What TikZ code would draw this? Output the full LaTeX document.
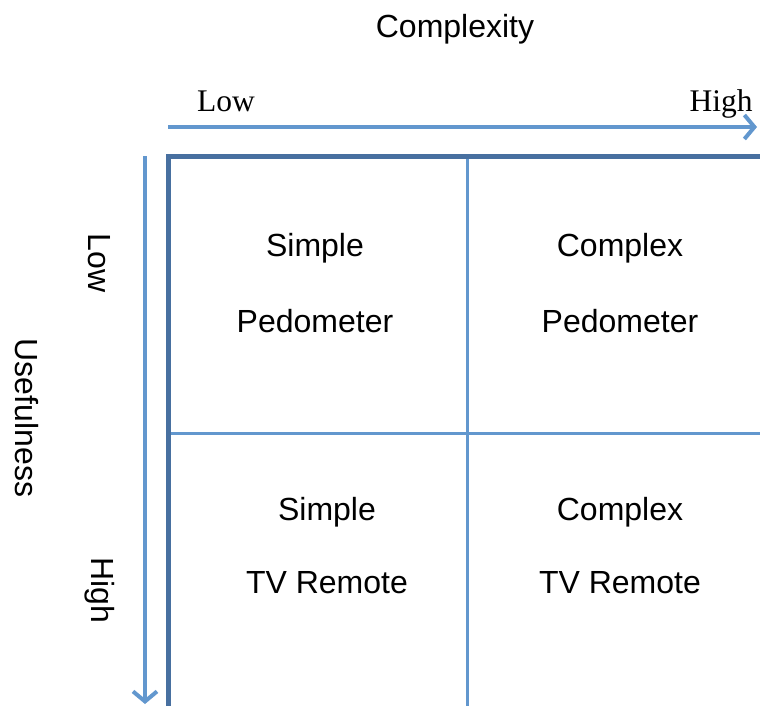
\documentclass[tikz,border=0pt]{standalone}
\usepackage{fontspec}
\setmainfont{Liberation Serif}
\setsansfont{Liberation Sans}
\usetikzlibrary{arrows.meta}
\definecolor{lightb}{RGB}{98,151,206}
\definecolor{darkb}{RGB}{72,112,160}
\begin{document}
\begin{tikzpicture}[x=1pt,y=-1pt,
  axis/.style={draw=lightb,line width=4pt,-{Straight Barb[length=10pt,width=24pt,line width=4pt]}},
  border/.style={draw=darkb,line width=5pt},
  divider/.style={draw=lightb,line width=3pt},
  lbl/.style={font=\sffamily\fontsize{32}{36}\selectfont,inner sep=0pt},
  slbl/.style={font=\rmfamily\fontsize{31.5}{36}\selectfont,inner sep=0pt,anchor=base}]
\useasboundingbox (0,0) rectangle (760,706);
% coordinates
\coordinate (hs) at (168,127);
\coordinate (he) at (757,127);
\coordinate (vs) at (145,156);
\coordinate (ve) at (145,704);
\coordinate (tl) at (168,156);
\coordinate (tr) at (762,156);
\coordinate (bl) at (168,708);
\coordinate (mt) at (467,156);
\coordinate (mb) at (467,708);
\coordinate (ml) at (168,433);
\coordinate (mr) at (762,433);
% grid
\draw[divider] (mt) -- (mb);
\draw[divider] (ml) -- (mr);
\draw[border] (bl) -- (tl) -- (tr);
% axes
\draw[axis] (hs) -- (he);
\draw[axis] (vs) -- (ve);
% labels
\node[lbl] (cx) at (455,29) {Complexity};
\node[slbl] (clow) at (226,112) {Low};
\node[slbl] (chigh) at (721,112) {High};
\node[lbl,rotate=-90] (us) at (27,418) {Usefulness};
\node[lbl,rotate=-90] (ulow) at (99,263) {Low};
\node[lbl,rotate=-90] (uhigh) at (100,590) {High};
% cells
\node[lbl] (a1) at (315,248) {Simple};
\node[lbl] (a2) at (315,321) {Pedometer};
\node[lbl] (b1) at (620,248) {Complex};
\node[lbl] (b2) at (620,321) {Pedometer};
\node[lbl] (c1) at (327,512) {Simple};
\node[lbl] (c2) at (327,583) {TV Remote};
\node[lbl] (d1) at (620,512) {Complex};
\node[lbl] (d2) at (620,583) {TV Remote};
\end{tikzpicture}
\end{document}
